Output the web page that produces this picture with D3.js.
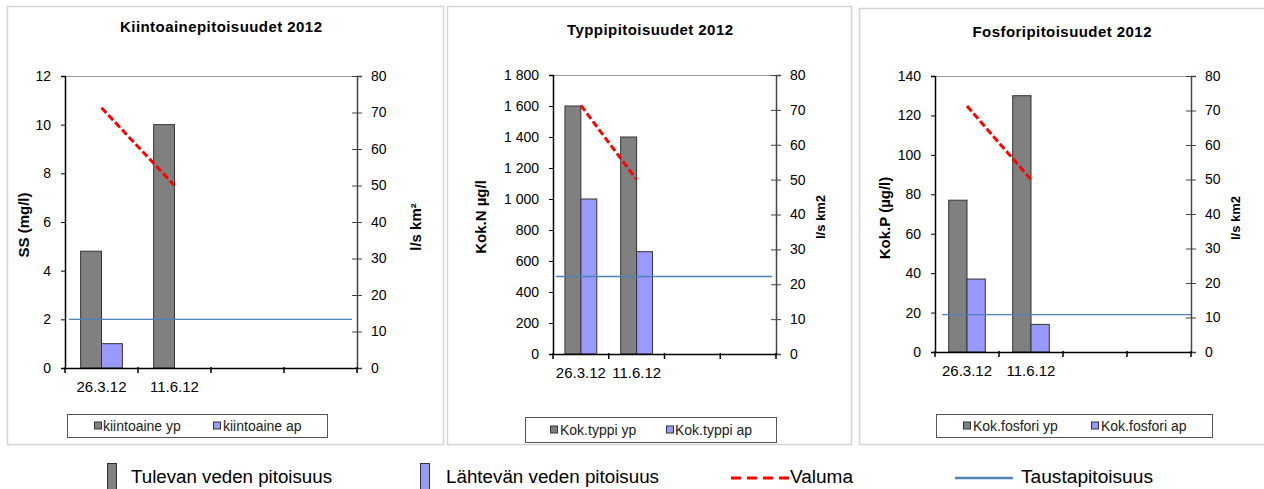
<!DOCTYPE html>
<html><head><meta charset="utf-8">
<script src="https://cdn.jsdelivr.net/npm/d3@7/dist/d3.min.js"></script>
<style>
html,body{margin:0;padding:0;background:#fff;}
svg{display:block;font-family:"Liberation Sans",Arial,sans-serif;}
</style></head>
<body>
<svg id="chart" width="1264" height="489"></svg>
<script>
// ---- data ----
const categories = ["26.3.12", "11.6.12", "", ""];
const ssInflow  = [4.8, 10, null, null];
const ssOutflow = [1.0, null, null, null];
const nInflow   = [1600, 1400, null, null];
const nOutflow  = [1000, 660, null, null];
const pInflow   = [77, 130, null, null];
const pOutflow  = [37, 14, null, null];
const runoff    = [71.3, 50, null, null];          // Valuma, l/s km2 (right axis)
const backgroundLevels = [2, 500, 19];             // Taustapitoisuus per panel (left axis)
const ssTicks = [0, 2, 4, 6, 8, 10, 12];
const nTicks  = [0, 200, 400, 600, 800, 1000, 1200, 1400, 1600, 1800];
const pTicks  = [0, 20, 40, 60, 80, 100, 120, 140];
const runoffTicks = [0, 10, 20, 30, 40, 50, 60, 70, 80];
const titles = ["Kiintoainepitoisuudet 2012", "Typpipitoisuudet 2012", "Fosforipitoisuudet 2012"];
const leftLabels = ["SS (mg/l)", "Kok.N µg/l", "Kok.P (µg/l)"];
const rightLabels = ["l/s km²", "l/s km2", "l/s km2"];
const legendInflow = ["kiintoaine yp", "Kok.typpi yp", "Kok.fosfori yp"];
const legendOutflow = ["kiintoaine ap", "Kok.typpi ap", "Kok.fosfori ap"];
const bottomLegend = ["Tulevan veden pitoisuus", "Lähtevän veden pitoisuus", "Valuma", "Taustapitoisuus"];

// ---- styles ----
const C_IN = "#808080", C_OUT = "#9999ff", C_RUN = "#ff0000", C_BG = "#4f81bd";
const svg = d3.select("#chart");
const FONT = "Liberation Sans, Arial, sans-serif";

const panels = [
  {box:[7,6,436,438], plot:[65,76,357,368], inflow:ssInflow, outflow:ssOutflow, ticks:ssTicks,
   title:{x:221,y:32,w:202}, leftLab:{x:23,y:225,w:66}, rightLab:{x:415,y:227,w:50,size:15},
   legend:{box:[67,414,260,23], sq1:94, t1:103, sq2:213, t2:223}, bgInset:[4,5]},
  {box:[447,6,404,438], plot:[553,75,776,354], inflow:nInflow, outflow:nOutflow, ticks:nTicks,
   title:{x:650,y:35,w:166}, leftLab:{x:480,y:217,w:77}, rightLab:{x:820,y:217,w:45,size:13},
   legend:{box:[525,417,251,25], sq1:550, t1:560, sq2:666, t2:675}, bgInset:[3,4]},
  {box:[859,8,410,436], plot:[935,76,1191,352], inflow:pInflow, outflow:pOutflow, ticks:pTicks,
   title:{x:1062,y:37,w:179}, leftLab:{x:884,y:218,w:87}, rightLab:{x:1235,y:218,w:43,size:13},
   legend:{box:[936,414,276,23], sq1:963, t1:973, sq2:1091, t2:1101}, bgInset:[7,0]}
];

const fmtSpace = d => d3.format(",")(d).replace(/,/g, " ");

panels.forEach((p, i) => {
  const g = svg.append("g");
  // panel frame
  g.append("rect").attr("x", p.box[0]+0.5).attr("y", p.box[1]+0.5)
    .attr("width", p.box[2]).attr("height", p.box[3])
    .attr("fill", "#fff").attr("stroke", "#d4d4d4").attr("stroke-width", 1.5);

  const [x0, y0, x1, y1] = p.plot;
  const x = d3.scaleBand().domain(d3.range(categories.length)).range([x0, x1]).padding(0);
  const y = d3.scaleLinear().domain([p.ticks[0], p.ticks[p.ticks.length-1]]).range([y1, y0]);
  const y2 = d3.scaleLinear().domain([runoffTicks[0], runoffTicks[runoffTicks.length-1]]).range([y1, y0]);
  const bw = x.bandwidth() / 3.5;

  // top border of plot area
  g.append("line").attr("x1", x0).attr("x2", x1).attr("y1", y0+0.5).attr("y2", y0+0.5)
    .attr("stroke", "#9a9a9a").attr("stroke-width", 1);

  // bars
  const inData = p.inflow.map((v, k) => ({k, v})).filter(d => d.v != null);
  const outData = p.outflow.map((v, k) => ({k, v})).filter(d => d.v != null);
  g.selectAll(".bin").data(inData).join("rect")
    .attr("x", d => x(d.k) + x.bandwidth()/2 - bw).attr("width", bw)
    .attr("y", d => y(d.v)).attr("height", d => y(0) - y(d.v))
    .attr("fill", C_IN).attr("stroke", "#333").attr("stroke-width", 1);
  g.selectAll(".bout").data(outData).join("rect")
    .attr("x", d => x(d.k) + x.bandwidth()/2).attr("width", bw)
    .attr("y", d => y(d.v)).attr("height", d => y(0) - y(d.v))
    .attr("fill", C_OUT).attr("stroke", "#333").attr("stroke-width", 1);

  // background level line
  g.append("line").attr("x1", x0 + p.bgInset[0]).attr("x2", x1 - p.bgInset[1])
    .attr("y1", y(backgroundLevels[i])).attr("y2", y(backgroundLevels[i]))
    .attr("stroke", C_BG).attr("stroke-width", 1.3);

  // runoff line
  const runData = runoff.map((v, k) => ({k, v})).filter(d => d.v != null);
  g.append("path").datum(runData)
    .attr("d", d3.line().x(d => x(d.k) + x.bandwidth()/2).y(d => y2(d.v)))
    .attr("fill", "none").attr("stroke", C_RUN).attr("stroke-width", 3)
    .attr("stroke-dasharray", "7,3");

  // left axis
  const la = g.append("g").attr("transform", `translate(${x0},0)`)
    .call(d3.axisLeft(y).tickValues(p.ticks).tickSize(4).tickPadding(10)
      .tickFormat(i === 1 ? fmtSpace : d3.format("d")));
  la.select(".domain").attr("stroke", "#000").attr("stroke-width", 1.5);
  la.selectAll("text").attr("font-size", 14).attr("font-family", FONT).attr("fill", "#000");
  la.selectAll("line").attr("stroke", "#000");

  // right axis
  const ra = g.append("g").attr("transform", `translate(${x1},0)`)
    .call(d3.axisRight(y2).tickValues(runoffTicks).tickSize(5).tickPadding(9));
  ra.select(".domain").attr("stroke", "#444").attr("stroke-width", 1.5);
  ra.selectAll(".tick line").attr("x1", -5).attr("stroke", "#444");
  ra.selectAll("text").attr("font-size", 14).attr("font-family", FONT).attr("fill", "#000");

  // x axis: labels at centers, ticks at band boundaries
  const xa = g.append("g").attr("transform", `translate(0,${y1})`)
    .call(d3.axisBottom(x).tickSize(0).tickPadding(13).tickFormat(k => categories[k]));
  xa.select(".domain").attr("stroke", "#000").attr("stroke-width", 1.5);
  xa.selectAll("text").attr("font-size", 15).attr("font-family", FONT).attr("fill", "#000");
  const bounds = d3.range(categories.length).map(k => x(k)).concat([x1]);
  g.selectAll(".xt").data(bounds).join("line")
    .attr("x1", d => d).attr("x2", d => d).attr("y1", y1 - 1).attr("y2", y1 + 5)
    .attr("stroke", "#000").attr("stroke-width", 1.5);

  // title
  g.append("text").attr("x", p.title.x).attr("y", p.title.y).attr("text-anchor", "middle")
    .attr("font-size", 15).attr("font-weight", "bold").attr("font-family", FONT)
    .attr("textLength", p.title.w).attr("lengthAdjust", "spacing").text(titles[i]);

  // axis titles
  g.append("text").attr("transform", `translate(${p.leftLab.x},${p.leftLab.y}) rotate(-90)`)
    .attr("text-anchor", "middle").attr("dominant-baseline", "central")
    .attr("font-size", 15).attr("font-weight", "bold").attr("font-family", FONT)
    .text(leftLabels[i]);
  g.append("text").attr("transform", `translate(${p.rightLab.x},${p.rightLab.y}) rotate(-90)`)
    .attr("text-anchor", "middle").attr("dominant-baseline", "central")
    .attr("font-size", p.rightLab.size).attr("font-weight", "bold").attr("font-family", FONT)
    .text(rightLabels[i]);

  // panel legend
  const L = p.legend;
  g.append("rect").attr("x", L.box[0]+0.5).attr("y", L.box[1]+0.5).attr("width", L.box[2]).attr("height", L.box[3])
    .attr("fill", "#fff").attr("stroke", "#555").attr("stroke-width", 1);
  const ly = L.box[1] + L.box[3]/2;
  [[L.sq1, L.t1, C_IN, legendInflow[i]], [L.sq2, L.t2, C_OUT, legendOutflow[i]]].forEach(([sx, tx, c, t]) => {
    g.append("rect").attr("x", sx+0.5).attr("y", ly - 3.5).attr("width", 7).attr("height", 7)
      .attr("fill", c).attr("stroke", "#333").attr("stroke-width", 1);
    g.append("text").attr("x", tx).attr("y", ly + 5).attr("font-size", 14).attr("font-family", FONT)
      .attr("fill", "#222").text(t);
  });
});

// ---- bottom legend ----
const bl = svg.append("g");
bl.append("rect").attr("x", 107.5).attr("y", 463.5).attr("width", 9).attr("height", 30)
  .attr("fill", C_IN).attr("stroke", "#333");
bl.append("text").attr("x", 131).attr("y", 483).attr("font-size", 18).attr("font-family", FONT)
  .attr("textLength", 201).attr("lengthAdjust", "spacingAndGlyphs").text(bottomLegend[0]);
bl.append("rect").attr("x", 420.5).attr("y", 463.5).attr("width", 9).attr("height", 30)
  .attr("fill", C_OUT).attr("stroke", "#333");
bl.append("text").attr("x", 446).attr("y", 483).attr("font-size", 18).attr("font-family", FONT)
  .attr("textLength", 213).attr("lengthAdjust", "spacingAndGlyphs").text(bottomLegend[1]);
bl.append("line").attr("x1", 731).attr("x2", 789).attr("y1", 478).attr("y2", 478)
  .attr("stroke", C_RUN).attr("stroke-width", 3).attr("stroke-dasharray", "10,6");
bl.append("text").attr("x", 790).attr("y", 483).attr("font-size", 18).attr("font-family", FONT)
  .attr("textLength", 63).attr("lengthAdjust", "spacingAndGlyphs").text(bottomLegend[2]);
bl.append("line").attr("x1", 955).attr("x2", 1013).attr("y1", 478).attr("y2", 478)
  .attr("stroke", C_BG).attr("stroke-width", 2.5);
bl.append("text").attr("x", 1021).attr("y", 483).attr("font-size", 18).attr("font-family", FONT)
  .attr("textLength", 132).attr("lengthAdjust", "spacingAndGlyphs").text(bottomLegend[3]);
</script>
</body></html>
